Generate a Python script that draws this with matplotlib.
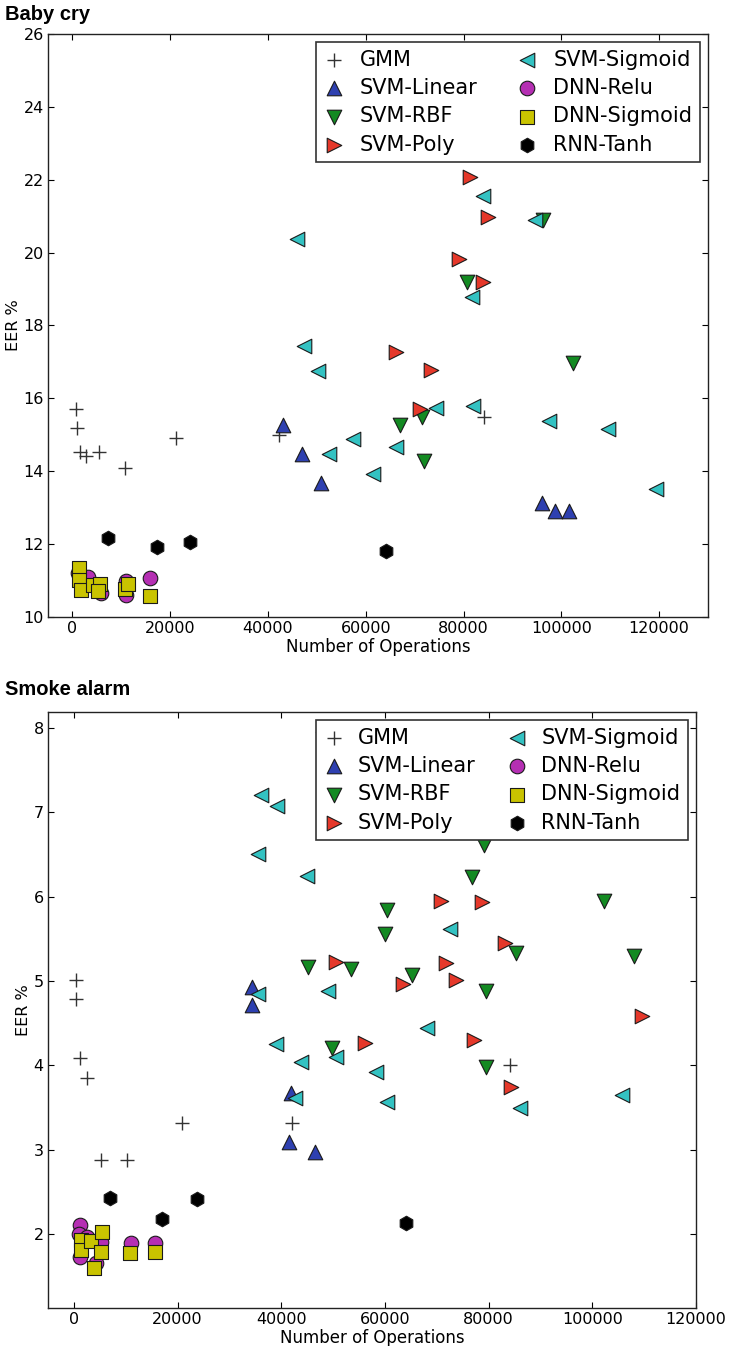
import matplotlib
matplotlib.use("Agg")
import matplotlib.pyplot as plt

# ---------------- Baby cry ----------------
baby_gmm_x = [740, 940, 1550, 2780, 5440, 10780, 21200, 42300, 84200]
baby_gmm_y = [15.71, 15.19, 14.53, 14.41, 14.53, 14.09, 14.91, 15.0, 15.49]

baby_lin_x = [43070, 46950, 50850, 96000, 98700, 101500]
baby_lin_y = [15.27, 14.47, 13.68, 13.13, 12.91, 12.91]

baby_rbf_x = [96150, 80700, 102400, 67000, 71600, 72000]
baby_rbf_y = [20.9, 19.19, 16.97, 15.27, 15.49, 14.28]

baby_poly_x = [81300, 85000, 79100, 83900, 66200, 73300, 71100]
baby_poly_y = [22.08, 20.98, 19.83, 19.19, 17.27, 16.78, 15.71]

baby_sig_x = [83900, 94600, 45900, 81800, 47400, 50200, 74300, 81900, 97500,
              109500, 57400, 66200, 52500, 61500, 119400]
baby_sig_y = [21.55, 20.9, 20.37, 18.78, 17.44, 16.75, 15.74, 15.79, 15.38,
              15.16, 14.89, 14.67, 14.47, 13.93, 13.51]

baby_relu_x = [1200, 3200, 5900, 11000, 11000, 15900]
baby_relu_y = [11.2, 11.1, 10.66, 10.6, 11.0, 11.08]

baby_dsig_x = [1300, 1300, 1700, 4200, 5600, 5300, 10800, 11400, 15900]
baby_dsig_y = [11.35, 11.02, 10.74, 10.88, 10.91, 10.72, 10.76, 10.9, 10.58]

baby_rnn_x = [7300, 17300, 24100, 64100]
baby_rnn_y = [12.17, 11.92, 12.06, 11.81]

# ---------------- Smoke alarm ----------------
smoke_gmm_x = [450, 330, 1100, 2580, 5230, 10260, 20900, 42000, 84200]
smoke_gmm_y = [5.01, 4.79, 4.08, 3.85, 2.87, 2.87, 3.31, 3.32, 4.0]

smoke_lin_x = [34300, 34300, 41800, 41400, 46500]
smoke_lin_y = [4.93, 4.71, 3.67, 3.09, 2.97]

smoke_rbf_x = [53600, 45100, 60400, 60000, 76700, 79200, 102200, 108000, 85200,
               53400, 65200, 79400, 49800, 79400]
smoke_rbf_y = [7.99, 5.17, 5.84, 5.56, 6.23, 6.61, 5.95, 5.3, 5.33,
               5.14, 5.07, 4.88, 4.2, 3.98]

smoke_poly_x = [50500, 70800, 78800, 83200, 71800, 73800, 63500, 109600, 56100,
                77200, 84400]
smoke_poly_y = [5.22, 5.95, 5.94, 5.45, 5.21, 5.01, 4.96, 4.58, 4.26,
                4.3, 3.74]

smoke_sig_x = [48000, 36000, 39100, 35600, 44900, 49000, 35600, 72600, 38900,
               43900, 50500, 58300, 60400, 42600, 68200, 86000, 105700]
smoke_sig_y = [7.95, 7.21, 7.08, 6.5, 6.25, 4.88, 4.84, 5.61, 4.25,
               4.04, 4.1, 3.92, 3.56, 3.61, 4.44, 3.49, 3.65]

smoke_relu_x = [1150, 900, 2600, 1200, 4300, 5200, 11000, 15700]
smoke_relu_y = [2.10, 2.0, 1.96, 1.72, 1.65, 1.9, 1.89, 1.89]

smoke_dsig_x = [1350, 1350, 3300, 5400, 5200, 3900, 10800, 15700]
smoke_dsig_y = [1.93, 1.81, 1.91, 2.02, 1.78, 1.6, 1.77, 1.78]

smoke_rnn_x = [6900, 17000, 23800, 64000]
smoke_rnn_y = [2.43, 2.18, 2.41, 2.13]

series_names = ["GMM", "SVM-Linear", "SVM-RBF", "SVM-Poly",
                "SVM-Sigmoid", "DNN-Relu", "DNN-Sigmoid", "RNN-Tanh"]
series_markers = ["+", "^", "v", ">", "<", "o", "s", "h"]
series_colors = ["#333333", "#2e40b0", "#138a22", "#e5382a",
                 "#33c2c2", "#b52fb3", "#c9c300", "#000000"]

baby = [(baby_gmm_x, baby_gmm_y), (baby_lin_x, baby_lin_y), (baby_rbf_x, baby_rbf_y),
        (baby_poly_x, baby_poly_y), (baby_sig_x, baby_sig_y), (baby_relu_x, baby_relu_y),
        (baby_dsig_x, baby_dsig_y), (baby_rnn_x, baby_rnn_y)]
smoke = [(smoke_gmm_x, smoke_gmm_y), (smoke_lin_x, smoke_lin_y), (smoke_rbf_x, smoke_rbf_y),
         (smoke_poly_x, smoke_poly_y), (smoke_sig_x, smoke_sig_y), (smoke_relu_x, smoke_relu_y),
         (smoke_dsig_x, smoke_dsig_y), (smoke_rnn_x, smoke_rnn_y)]

W, H = 729, 1346
fig = plt.figure(figsize=(W / 100, H / 100), dpi=100)
fig.patch.set_facecolor("white")


def panel(rect, data, xlim, ylim, yticks, colspace, textpad):
    ax = fig.add_axes(rect)
    for (xs, ys), name, m, c in zip(data, series_names, series_markers, series_colors):
        if m == "+":
            ax.scatter(xs, ys, s=110, marker=m, color=c, linewidths=1.0, label=name)
        else:
            ax.scatter(xs, ys, s=110, marker=m, facecolor=c, edgecolor="#1a1a1a",
                       linewidths=0.8, label=name)
    ax.set_xlim(*xlim)
    ax.set_ylim(*ylim)
    ax.set_xticks([0, 20000, 40000, 60000, 80000, 100000, 120000])
    ax.set_yticks(yticks)
    ax.tick_params(direction="in", top=True, right=True, length=4, width=0.8,
                   labelsize=11.5, pad=3)
    for sp in ax.spines.values():
        sp.set_linewidth(1.0)
        sp.set_color("#222222")
    ax.set_xlabel("Number of Operations", fontsize=12, labelpad=1)
    ax.set_ylabel("EER %", fontsize=11.5, labelpad=2)
    leg = ax.legend(ncol=2, loc="upper right", fontsize=15, scatterpoints=1,
                    frameon=True, fancybox=False, framealpha=1.0, borderaxespad=0.4,
                    labelspacing=0.4, handletextpad=textpad, columnspacing=colspace,
                    handlelength=1.0, borderpad=0.35)
    leg.get_frame().set_edgecolor("#333333")
    leg.get_frame().set_linewidth(1.2)
    return ax


panel([48 / W, 1 - 617 / H, 660 / W, 583 / H], baby, (-5000, 130000), (10, 26),
      [10, 12, 14, 16, 18, 20, 22, 24, 26], 1.9, 0.75)
panel([48 / W, 1 - 1308 / H, 648 / W, 596 / H], smoke, (-5000, 120000), (1.12, 8.19),
      [2, 3, 4, 5, 6, 7, 8], 1.5, 0.65)

fig.text(5 / W, 1 - 14 / H, "Baby cry", fontsize=14.5, fontweight="bold",
         family="Liberation Sans", va="center", ha="left")
fig.text(5 / W, 1 - 690 / H, "Smoke alarm", fontsize=14.5, fontweight="bold",
         family="Liberation Sans", va="center", ha="left")

fig.savefig("out.png", dpi=100)
